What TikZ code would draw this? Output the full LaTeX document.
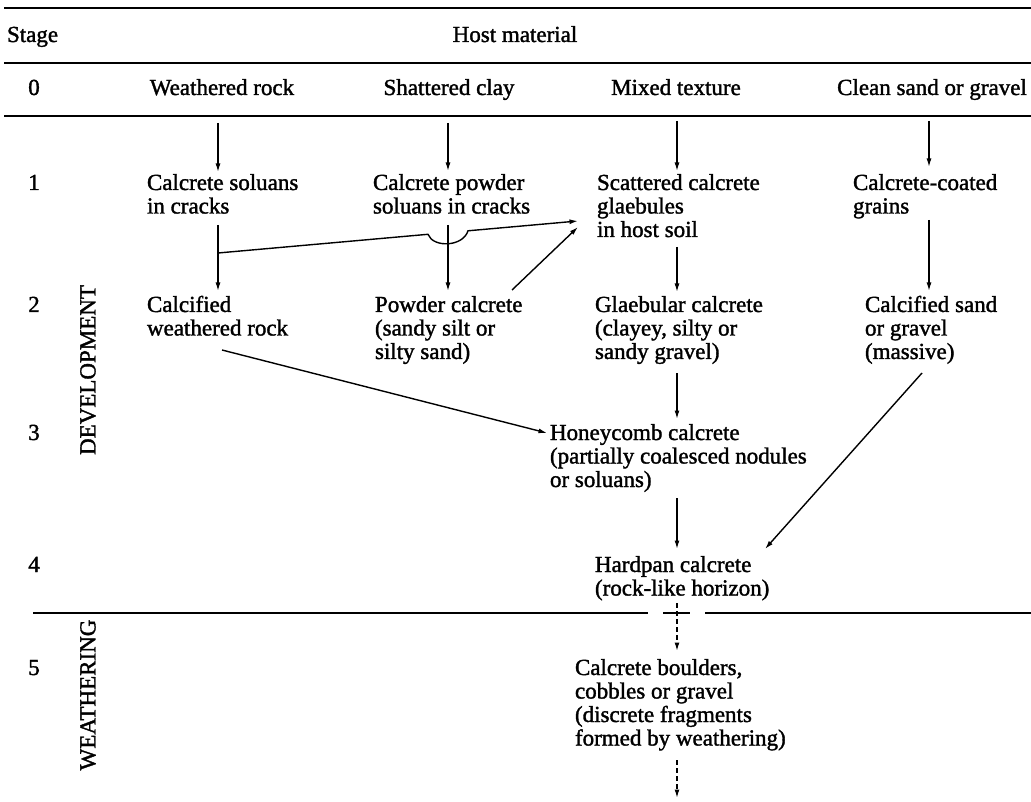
\documentclass[tikz,border=0pt]{standalone}
\usepackage{fontspec}
\setmainfont{Liberation Serif}
\newfontfamily\dfont{Liberation Serif}[FakeBold=1.5]
\usetikzlibrary{arrows.meta}
\newcommand{\stk}[1]{\vtop{#1}}
\newcommand{\Lx}[1]{\hbox{#1}}
\begin{document}
\begin{tikzpicture}[x=1pt,y=-1pt,
  every node/.style={inner sep=0pt, outer sep=0pt, font=\dfont\fontsize{23}{23.5}\selectfont},
  lbl/.style={anchor=base west},
  ctr/.style={anchor=base},
  vlab/.style={rotate=90},
  rulel/.style={line width=1.6pt},
  arr/.style={line width=1.4pt, -{Latex[length=8.5pt,width=5pt]}},
  dsh/.style={arr, dash pattern=on 5pt off 3pt}]
\useasboundingbox (0,0) rectangle (1031,802);

% rules
\draw[rulel] (4,8) -- (1031,8);
\draw[rulel] (4,63) -- (1031,63);
\draw[rulel] (4,116) -- (1031,116);
\draw[rulel] (33,613) -- (648,613);
\draw[rulel] (663,613) -- (690,613);
\draw[rulel] (705,613) -- (1031,613);

% header
\node[lbl] (stage) at (7,42) {Stage};
\node[ctr] (host) at (515,42) {Host material};

% stage numbers
\node[ctr] (s0) at (34,95) {0};
\node[ctr] (s1) at (34,190) {1};
\node[ctr] (s2) at (34,312) {2};
\node[ctr] (s3) at (34,440) {3};
\node[ctr] (s4) at (34,572) {4};
\node[ctr] (s5) at (34,675) {5};

\node[vlab] (dev) at (88,370) {DEVELOPMENT};
\node[vlab] (wea) at (88,695) {WEATHERING};

% row 0
\node[ctr] (h1) at (222,95) {Weathered rock};
\node[ctr] (h2) at (449,95) {Shattered clay};
\node[ctr] (h3) at (676,95) {Mixed texture};
\node[ctr] (h4) at (932,95) {Clean sand or gravel};

% row 1
\node[lbl] (a1) at (147,190) {\stk{\Lx{Calcrete soluans}\Lx{in cracks}}};
\node[lbl] (b1) at (373,190) {\stk{\Lx{Calcrete powder}\Lx{soluans in cracks}}};
\node[lbl] (c1) at (597,190) {\stk{\Lx{Scattered calcrete}\Lx{glaebules}\Lx{in host soil}}};
\node[lbl] (d1) at (853,190) {\stk{\Lx{Calcrete-coated}\Lx{grains}}};

% row 2
\node[lbl] (a2) at (147,312) {\stk{\Lx{Calcified}\Lx{weathered rock}}};
\node[lbl] (b2) at (375,312) {\stk{\Lx{Powder calcrete}\Lx{(sandy silt or}\Lx{silty sand)}}};
\node[lbl] (c2) at (595,312) {\stk{\Lx{Glaebular calcrete}\Lx{(clayey, silty or}\Lx{sandy gravel)}}};
\node[lbl] (d2) at (865,312) {\stk{\Lx{Calcified sand}\Lx{or gravel}\Lx{(massive)}}};

% row 3
\node[lbl] (c3) at (550,440) {\stk{\Lx{Honeycomb calcrete}\Lx{(partially coalesced nodules}\Lx{or soluans)}}};

% row 4
\node[lbl] (c4) at (595,572) {\stk{\Lx{Hardpan calcrete}\Lx{(rock-like horizon)}}};

% row 5
\node[lbl] (c5) at (575,675) {\stk{\Lx{Calcrete boulders,}\Lx{cobbles or gravel}\Lx{(discrete fragments}\Lx{formed by weathering)}}};

% connector end points
\coordinate (h1s) at (218,123); \coordinate (a1n) at (218,172);
\coordinate (a1s) at (218,225); \coordinate (a2n) at (218,291);
\coordinate (h2s) at (448,123); \coordinate (b1n) at (448,171);
\coordinate (b1s) at (448,225); \coordinate (b2n) at (448,291);
\coordinate (h3s) at (677,121); \coordinate (c1n) at (677,171);
\coordinate (c1s) at (677,247); \coordinate (c2n) at (677,292);
\coordinate (c2s) at (677,373); \coordinate (c3n) at (677,419);
\coordinate (c3s) at (677,498); \coordinate (c4n) at (677,549);
\coordinate (c4s) at (677,603); \coordinate (c5n) at (677,651);
\coordinate (c5s) at (677,760); \coordinate (c5out) at (677,798);
\coordinate (h4s) at (929,121); \coordinate (d1n) at (929,167);
\coordinate (d1s) at (929,220); \coordinate (d2n) at (929,291);
\coordinate (brA) at (218,253);
\coordinate (hopL) at (428,234.3); \coordinate (hopR) at (468,230.8);
\coordinate (c1w) at (578,221);
\coordinate (b2ne) at (512,290); \coordinate (c1sw) at (578,227);
\coordinate (a2se) at (222,350); \coordinate (c3w) at (547,433);
\coordinate (d2sw) at (922,373); \coordinate (c4ne) at (765,549);

% vertical connectors
\draw[arr] (h1s) -- (a1n);
\draw[arr] (a1s) -- (a2n);
\draw[arr] (h2s) -- (b1n);
\draw[arr] (b1s) -- (b2n);
\draw[arr] (h3s) -- (c1n);
\draw[arr] (c1s) -- (c2n);
\draw[arr] (c2s) -- (c3n);
\draw[arr] (c3s) -- (c4n);
\draw[arr] (h4s) -- (d1n);
\draw[arr] (d1s) -- (d2n);
\draw[dsh] (c4s) -- (c5n);
\draw[dsh] (c5s) -- (c5out);

% branch with hop over the shattered-clay column
\draw[arr] (brA) -- (hopL) .. controls (433,248) and (463,247) .. (hopR) -- (c1w);
% diagonals
\draw[arr] (b2ne) -- (c1sw);
\draw[arr] (a2se) -- (c3w);
\draw[arr] (d2sw) -- (c4ne);
\end{tikzpicture}
\end{document}
